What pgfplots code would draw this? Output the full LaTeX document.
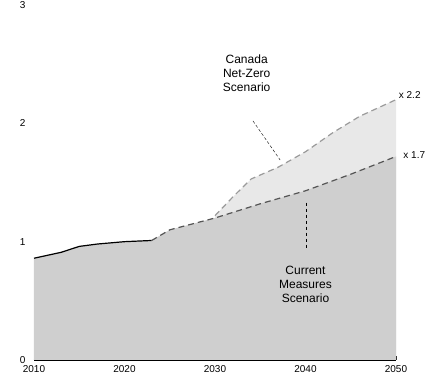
\documentclass[border=0pt]{standalone}
\usepackage{pgfplots}
\pgfplotsset{compat=1.18}
\usepackage{fontspec}
\setmainfont{Liberation Sans}
\definecolor{lowfill}{HTML}{CFCFCF}
\definecolor{highfill}{HTML}{E8E8E8}
\definecolor{nzline}{HTML}{9A9A9A}
\definecolor{cmline}{HTML}{555555}
\begin{document}
\begin{tikzpicture}[x=1pt,y=1pt]
\begin{axis}[
    at={(34pt,15pt)}, anchor=origin,
    scale only axis, width=362pt, height=355pt,
    xmin=2010, xmax=2050, ymin=0, ymax=3,
    axis y line*=left, y axis line style={draw=none},
    axis x line*=bottom,
    xtick={2010,2020,2030,2040,2050},
    ytick={0,1,2,3},
    ytick style={draw=none},
    xtick style={black, thick},
    x axis line style={black, line width=1.5pt},
    x tick label style={/pgf/number format/1000 sep={}, yshift=-2pt},
    y tick label style={xshift=-5pt},
    tick label style={font=\normalsize},
    /pgf/number format/assume math mode=true,
    clip=false,
]
% Canada Net-Zero Scenario (light area)
\addplot[draw=none, fill=highfill] coordinates {
    (2030,0) (2030,1.22) (2032,1.38) (2034,1.53) (2037,1.63) (2040,1.76)
    (2043,1.92) (2046,2.06) (2050,2.2) (2050,0)} -- cycle;
% Current Measures Scenario (darker area)
\addplot[draw=none, fill=lowfill] coordinates {
    (2010,0) (2010,0.86) (2013,0.91) (2015,0.96) (2017,0.98) (2020,1.0)
    (2023,1.01) (2025,1.1) (2030,1.2) (2035,1.32) (2040,1.43) (2045,1.57)
    (2050,1.72) (2050,0)} -- cycle;
% historical
\addplot[black, line width=1.2pt] coordinates {
    (2010,0.86) (2013,0.91) (2015,0.96) (2017,0.98) (2020,1.0) (2023,1.01)};
% projections
\addplot[cmline, line width=1.2pt, dash pattern=on 6pt off 4pt] coordinates {
    (2023,1.01) (2025,1.1) (2030,1.2) (2035,1.32) (2040,1.43) (2045,1.57) (2050,1.72)};
\addplot[nzline, line width=1.2pt, dash pattern=on 6pt off 4pt] coordinates {
    (2030,1.22) (2032,1.38) (2034,1.53) (2037,1.63) (2040,1.76)
    (2043,1.92) (2046,2.06) (2050,2.2)};
% annotations
\node[align=center, font=\large, inner sep=0pt] at (axis cs:2033.5,2.42) {Canada\\Net-Zero\\Scenario};
\draw[black, densely dashed, thin] (axis cs:2034.2,2.02) -- (axis cs:2037.2,1.69);
\node[align=center, font=\large, inner sep=0pt] at (axis cs:2040,0.64) {Current\\Measures\\Scenario};
\draw[black, dashed, thin] (axis cs:2040.1,1.33) -- (axis cs:2040.1,0.95);
\node[anchor=west, font=\normalsize, inner sep=0pt] at (axis cs:2050.3,2.24) {x 2.2};
\node[anchor=west, font=\normalsize, inner sep=0pt] at (axis cs:2050.8,1.73) {x 1.7};
\end{axis}
\pgfresetboundingbox
\path (0,0) rectangle (432,375);
\end{tikzpicture}
\end{document}
